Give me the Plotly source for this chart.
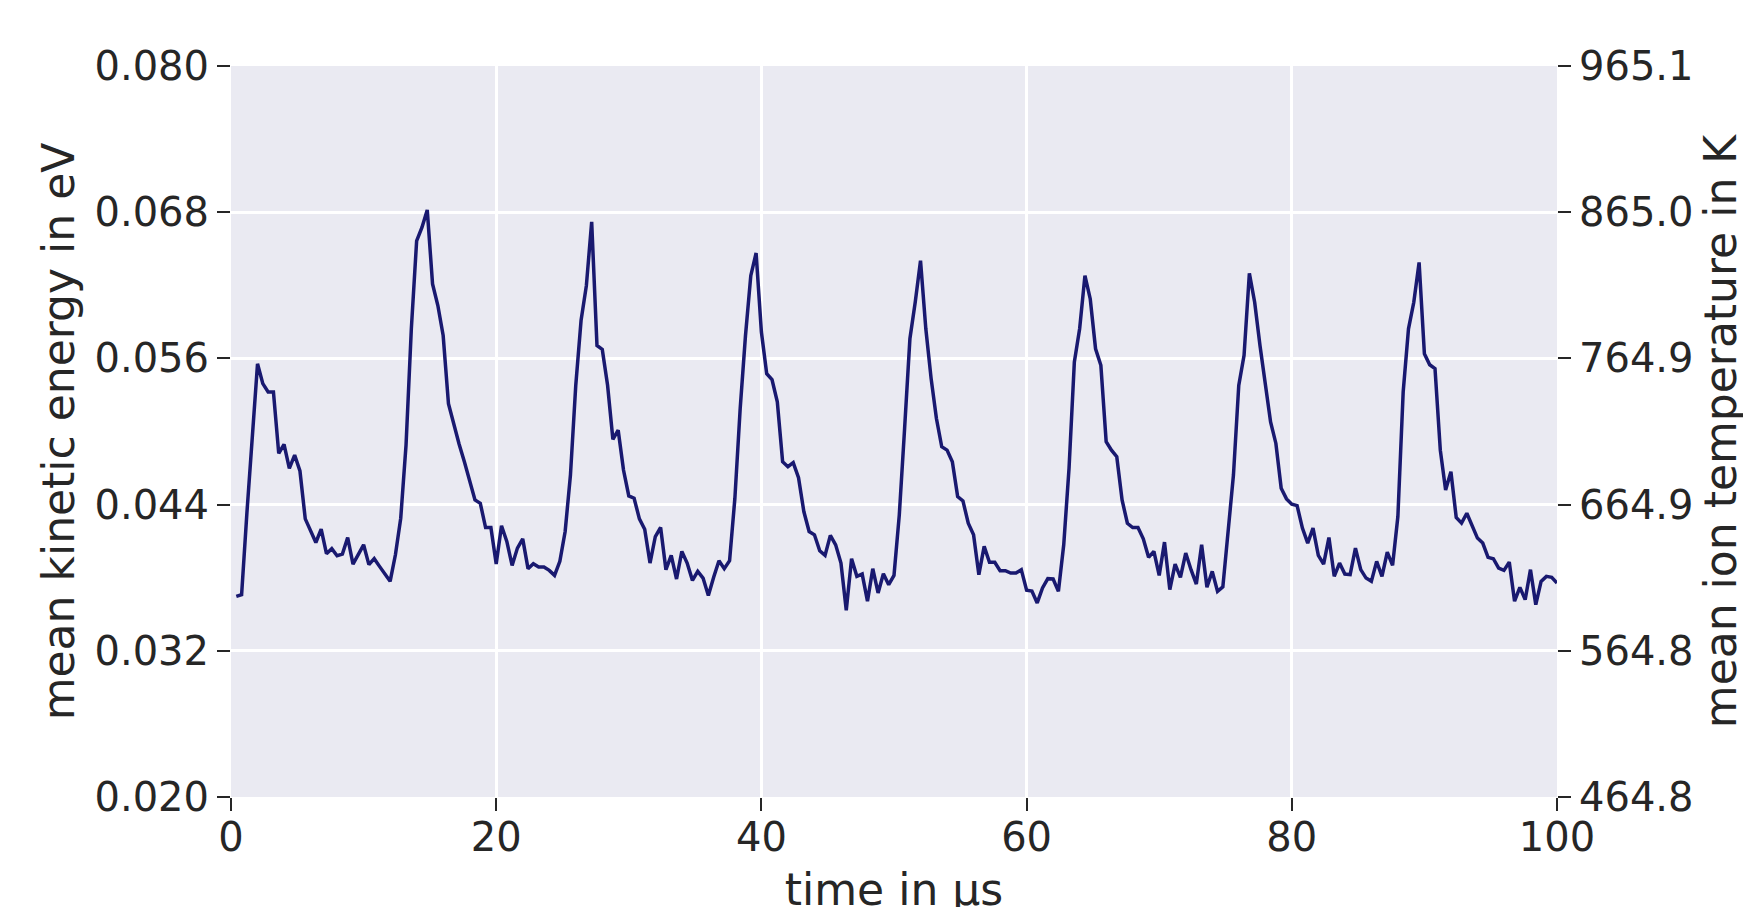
import plotly.graph_objects as go

# time axis (µs), sampled every 0.4 µs
time_us = [
    0.4, 0.8, 1.2, 1.6, 2.0, 2.4, 2.8, 3.2, 3.6, 4.0,
    4.4, 4.8, 5.2, 5.6, 6.0, 6.4, 6.8, 7.2, 7.6, 8.0,
    8.4, 8.8, 9.2, 9.6, 10.0, 10.4, 10.8, 11.2, 11.6, 12.0,
    12.4, 12.8, 13.2, 13.6, 14.0, 14.4, 14.8, 15.2, 15.6, 16.0,
    16.4, 16.8, 17.2, 17.6, 18.0, 18.4, 18.8, 19.2, 19.6, 20.0,
    20.4, 20.8, 21.2, 21.6, 22.0, 22.4, 22.8, 23.2, 23.6, 24.0,
    24.4, 24.8, 25.2, 25.6, 26.0, 26.4, 26.8, 27.2, 27.6, 28.0,
    28.4, 28.8, 29.2, 29.6, 30.0, 30.4, 30.8, 31.2, 31.6, 32.0,
    32.4, 32.8, 33.2, 33.6, 34.0, 34.4, 34.8, 35.2, 35.6, 36.0,
    36.4, 36.8, 37.2, 37.6, 38.0, 38.4, 38.8, 39.2, 39.6, 40.0,
    40.4, 40.8, 41.2, 41.6, 42.0, 42.4, 42.8, 43.2, 43.6, 44.0,
    44.4, 44.8, 45.2, 45.6, 46.0, 46.4, 46.8, 47.2, 47.6, 48.0,
    48.4, 48.8, 49.2, 49.6, 50.0, 50.4, 50.8, 51.2, 51.6, 52.0,
    52.4, 52.8, 53.2, 53.6, 54.0, 54.4, 54.8, 55.2, 55.6, 56.0,
    56.4, 56.8, 57.2, 57.6, 58.0, 58.4, 58.8, 59.2, 59.6, 60.0,
    60.4, 60.8, 61.2, 61.6, 62.0, 62.4, 62.8, 63.2, 63.6, 64.0,
    64.4, 64.8, 65.2, 65.6, 66.0, 66.4, 66.8, 67.2, 67.6, 68.0,
    68.4, 68.8, 69.2, 69.6, 70.0, 70.4, 70.8, 71.2, 71.6, 72.0,
    72.4, 72.8, 73.2, 73.6, 74.0, 74.4, 74.8, 75.2, 75.6, 76.0,
    76.4, 76.8, 77.2, 77.6, 78.0, 78.4, 78.8, 79.2, 79.6, 80.0,
    80.4, 80.8, 81.2, 81.6, 82.0, 82.4, 82.8, 83.2, 83.6, 84.0,
    84.4, 84.8, 85.2, 85.6, 86.0, 86.4, 86.8, 87.2, 87.6, 88.0,
    88.4, 88.8, 89.2, 89.6, 90.0, 90.4, 90.8, 91.2, 91.6, 92.0,
    92.4, 92.8, 93.2, 93.6, 94.0, 94.4, 94.8, 95.2, 95.6, 96.0,
    96.4, 96.8, 97.2, 97.6, 98.0, 98.4, 98.8, 99.2, 99.6, 100.0,
]

# mean kinetic energy (eV)
energy_ev = [
    # 0.4 - 16.8
    0.03647, 0.03661, 0.04332, 0.04965, 0.05556, 0.05393, 0.05325, 0.05325, 0.04820, 0.04894,
    0.04697, 0.04806, 0.04676, 0.04283, 0.04193, 0.04089, 0.04198, 0.03997, 0.04038, 0.03980,
    0.03994, 0.04130, 0.03912, 0.03988, 0.04070, 0.03907, 0.03956, 0.03893, 0.03825, 0.03770,
    0.03988, 0.04288, 0.04888, 0.05843, 0.06565, 0.06675, 0.06819, 0.06211, 0.06034, 0.05788,
    0.05229, 0.05052,
    # 17.2 - 33.6
    0.04897, 0.04752, 0.04597, 0.04438, 0.04411, 0.04212, 0.04212, 0.03912, 0.04226, 0.04098,
    0.03901, 0.04043, 0.04119, 0.03874, 0.03915, 0.03888, 0.03888, 0.03860, 0.03819, 0.03934,
    0.04179, 0.04643, 0.05379, 0.05911, 0.06197, 0.06721, 0.05706, 0.05674, 0.05379, 0.04935,
    0.05011, 0.04684, 0.04471, 0.04452, 0.04283, 0.04198, 0.03920, 0.04138, 0.04212, 0.03866,
    0.03983, 0.03789,
    # 34.0 - 50.8
    0.04016, 0.03920, 0.03778, 0.03852, 0.03797, 0.03653, 0.03803, 0.03939, 0.03874, 0.03939,
    0.04452, 0.05188, 0.05788, 0.06279, 0.06465, 0.05816, 0.05475, 0.05426, 0.05243, 0.04752,
    0.04711, 0.04744, 0.04621, 0.04343, 0.04179, 0.04152, 0.04021, 0.03983, 0.04147, 0.04070,
    0.03920, 0.03533, 0.03956, 0.03811, 0.03830, 0.03607, 0.03874, 0.03675, 0.03833, 0.03743,
    0.03819, 0.04316, 0.05025,
    # 51.2 - 67.6
    0.05761, 0.06061, 0.06402, 0.05843, 0.05434, 0.05107, 0.04875, 0.04847, 0.04752, 0.04466,
    0.04430, 0.04247, 0.04152, 0.03825, 0.04057, 0.03926, 0.03926, 0.03858, 0.03858, 0.03838,
    0.03838, 0.03866, 0.03697, 0.03691, 0.03593, 0.03716, 0.03792, 0.03789, 0.03688, 0.04070,
    0.04697, 0.05570, 0.05843, 0.06279, 0.06088, 0.05679, 0.05543, 0.04916, 0.04847, 0.04793,
    0.04438, 0.04247,
    # 68.0 - 84.4
    0.04212, 0.04212, 0.04119, 0.03967, 0.04016, 0.03819, 0.04092, 0.03702, 0.03912, 0.03803,
    0.04002, 0.03866, 0.03748, 0.04070, 0.03721, 0.03852, 0.03688, 0.03724, 0.04152, 0.04643,
    0.05379, 0.05625, 0.06298, 0.06061, 0.05706, 0.05406, 0.05079, 0.04902, 0.04534, 0.04447,
    0.04403, 0.04392, 0.04207, 0.04084, 0.04207, 0.03983, 0.03912, 0.04130, 0.03811, 0.03920,
    0.03830, 0.03825,
    # 84.8 - 100.0
    0.04043, 0.03866, 0.03797, 0.03770, 0.03934, 0.03811, 0.04010, 0.03901, 0.04302, 0.05325,
    0.05843, 0.06061, 0.06388, 0.05638, 0.05548, 0.05516, 0.04847, 0.04520, 0.04670, 0.04294,
    0.04248, 0.04329, 0.04220, 0.04125, 0.04084, 0.03967, 0.03956, 0.03879, 0.03860, 0.03928,
    0.03607, 0.03721, 0.03620, 0.03866, 0.03579, 0.03770, 0.03811, 0.03803, 0.03757,
]

x_ticks = [0, 20, 40, 60, 80, 100]
energy_ticks = [0.020, 0.032, 0.044, 0.056, 0.068, 0.080]
temperature_labels = ["464.8", "564.8", "664.9", "764.9", "865.0", "965.1"]

FONT = "DejaVu Sans"
TXT = "#262626"
tickfont = dict(family=FONT, size=40, color=TXT)
titlefont = dict(family=FONT, size=44, color=TXT)

fig = go.Figure()
fig.add_trace(go.Scatter(
    x=time_us, y=energy_ev, mode="lines",
    line=dict(color="#191970", width=3.5),
    showlegend=False,
))
# invisible companion trace so the right-hand temperature axis is drawn
fig.add_trace(go.Scatter(
    x=time_us, y=energy_ev, mode="lines", yaxis="y2",
    line=dict(color="rgba(0,0,0,0)", width=0),
    hoverinfo="skip", showlegend=False,
))

common = dict(
    showline=False, zeroline=False, ticks="outside", ticklen=13, tickwidth=2,
    tickcolor=TXT, tickfont=tickfont, automargin=False,
)

# the page body adds an 8 px offset, so margins are trimmed by 8 px on left/top
fig.update_layout(
    width=1751, height=907,
    margin=dict(l=223, r=202, t=58, b=118),
    paper_bgcolor="white", plot_bgcolor="#EAEAF2",
    xaxis=dict(
        range=[0, 100], tickvals=x_ticks, showgrid=True, gridcolor="white", gridwidth=2.5,
        ticklabelstandoff=-8,
        title=dict(text="time in µs", font=titlefont, standoff=18),
        **common,
    ),
    yaxis=dict(
        range=[0.020, 0.080], tickvals=energy_ticks, tickformat=".3f",
        showgrid=True, gridcolor="white", gridwidth=2.5,
        title=dict(text="mean kinetic energy in eV", font=titlefont, standoff=6),
        **common,
    ),
    yaxis2=dict(
        overlaying="y", side="right", range=[0.020, 0.080],
        tickvals=energy_ticks, ticktext=temperature_labels, showgrid=False,
        title=dict(text="mean ion temperature in K", font=titlefont, standoff=12),
        **common,
    ),
)

fig.write_html("out.html")
